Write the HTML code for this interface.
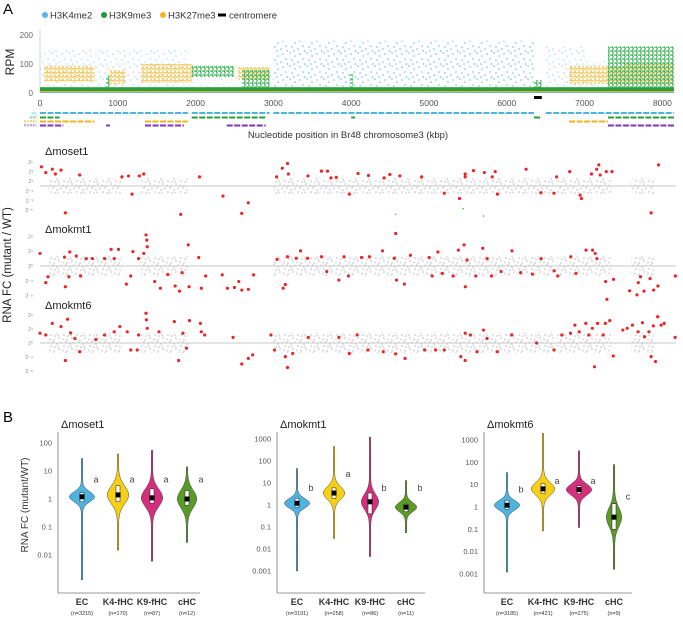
<!DOCTYPE html>
<html><head><meta charset="utf-8"><style>
body{margin:0;background:#fff}
svg{display:block;font-family:"Liberation Sans",sans-serif}
</style></head><body>
<svg id="fig" width="683" height="619" viewBox="0 0 683 619">
<defs id="defs"></defs>
<text x="3" y="14" font-size="15">A</text>
<text x="3" y="422" font-size="15">B</text>
<g id="topg"></g>
<g id="mid"></g>
<g id="bot"></g>
</svg>
<script>
// ---------- Panel A top data ----------
const topTicksX=[0,1000,2000,3000,4000,5000,6000,7000,8000];
const topTicksY=[0,100,200];
const blueStart=[0,1900,3000,6500,7000], blueEnd=[1900,3000,6350,7000,8150], blueTop=[150,60,180,160,110], blueOp=[0.6,0.4,1,0.6,0.5];
const yelStart=[50,1300,2550,6800,7500,900], yelEnd=[700,1950,2950,7500,8150,1100], yelLow=[40,35,45,30,30,30], yelTop=[95,100,90,95,100,80];
const grnStart=[1950,7300,6350,850,3980,2600], grnEnd=[2500,8150,6450,900,4020,2950], grnLow=[55,20,5,20,20,20], grnTop=[95,160,45,60,65,80];
const ecStart=[0,1950,3000,6500], ecEnd=[1900,2950,6350,8150];
const chcStart=[0,1950,4000,6350,7300], chcEnd=[250,2900,4050,6450,8150];
const k4Start=[0,1350,6800], k4End=[700,1900,7300];
const k9Start=[0,850,1350,2400,7300], k9End=[300,900,1850,2900,8150];
// ---------- Panel A RNA data (kbp, log2 FC) ----------
const m1Pos=[18,74,158,197,270,326,510,1053,1137,1182,1277,1333,1809,2050,2352,2593,2677,3041,3114,3181,3192,3444,3617,3696,3740,3808,3976,4088,4222,4423,4496,4625,4905,5196,5392,5465,5465,5571,5711,5812,5851,5879,6248,6439,6607,6640,6808,6942,6959,7088,7155,7183,7200,7278,7351,7855,7950];
const m1Val=[4.0,2.8,3.5,2.5,3.3,-5.6,2.3,1.9,2.1,-1.7,2.1,2.5,-5.9,1.9,-2.1,-5.7,-3.5,1.9,3.7,4.7,2.5,2.1,3.1,3.1,1.7,1.8,-1.7,2.6,2.2,1.7,2.4,2.1,1.9,-1.5,-2.6,2.5,1.9,3.2,2.8,1.9,3.0,-1.7,3.5,-1.4,-1.5,1.9,3.0,-1.9,-2.6,2.5,3.5,4.4,2.3,3.0,3.0,-5.6,4.4];
const k1Pos=[0,74,102,315,326,371,382,466,522,595,673,830,914,953,1009,1110,1166,1194,1267,1334,1362,1373,1378,1474,1547,1642,1737,1793,1827,1905,1916,2040,2073,2129,2342,2409,2499,2555,2594,2678,2745,3047,3125,3153,3181,3293,3349,3439,3618,3685,3841,3908,3964,4133,4234,4402,4554,4571,4582,4683,4761,5002,5041,5114,5170,5310,5377,5450,5467,5489,5601,5691,5747,5803,5926,6066,6178,6329,6441,6609,6654,6822,6889,7018,7102,7136,7158,7270,7287,7371,7578,7673,7690,7718,7763,7841,7886,7942,8166];
const k1Val=[3.4,-4.5,-2.9,2.4,-5.6,-2.9,3.8,2.7,-2.7,2.0,2.0,2.0,4.5,2.0,4.5,-4.9,-2.7,3.9,2.0,3.4,8.4,7.0,5.2,-4.2,-6.0,-2.3,-5.4,-6.8,-1.8,5.7,-5.6,2.3,-6.0,-2.7,-2.4,-6.0,-5.8,-4.2,-6.5,-6.3,-2.4,1.8,-6.0,-5.0,2.5,2.1,4.1,2.1,2.5,-1.5,-3.8,2.5,-2.7,2.3,2.5,4.1,2.1,8.8,-3.8,-4.9,2.9,2.3,-2.7,3.8,-2.0,-2.7,4.3,5.7,-5.6,1.6,-2.7,4.8,2.0,-2.7,-1.5,4.1,-1.8,-2.2,2.0,-1.3,-2.7,2.5,-2.0,4.3,4.3,3.4,2.0,-4.2,-9.0,-3.6,-6.7,-7.8,-4.5,-2.9,-6.8,-3.4,-6.5,-5.4,-2.7];
const k1GreenPos=[4571,5440,5700], k1GreenVal=[14,15.5,13.5];
const k6Pos=[0,74,158,270,326,354,393,449,510,718,830,953,1026,1121,1166,1250,1267,1362,1367,1378,1529,1726,1782,1837,1882,1921,2061,2073,2117,2481,2593,2677,2733,2968,3013,3153,3181,3248,3449,3841,3976,4077,4216,4412,4571,4692,4944,5084,5196,5409,5465,5465,5532,5616,5700,5745,5879,6063,6383,6607,6707,6819,6875,6931,7015,7054,7099,7127,7166,7239,7267,7323,7368,7491,7547,7614,7687,7743,7771,7827,7855,7883,7911,7939,7984,8023,8163];
const k6Val=[2.8,2.3,5.6,4.7,-5.0,6.8,2.9,1.3,-2.5,1.0,2.3,3.2,4.7,3.2,-2.0,-2.0,2.3,8.5,6.6,4.2,3.2,6.1,-5.0,2.8,-1.5,6.4,5.6,3.2,2.3,1.6,-6.0,-4.4,-3.4,2.3,-2.0,-3.9,-7.0,-3.0,1.6,1.6,-3.0,2.3,-2.0,-2.5,-3.1,-4.4,-2.0,-2.0,-2.0,-3.9,-5.0,2.8,2.3,-2.5,3.7,1.3,-2.5,2.3,0,-2.0,2.3,2.8,5.1,3.2,5.6,2.3,4.2,-6.8,5.6,2.3,5.6,6.4,-3.7,3.7,4.2,5.1,3.2,5.8,1.8,3.2,-3.9,4.9,-5.3,7.5,5.1,5.6,1.6];
const greyStart=[100,1300,3000,6650,7600], greyEnd=[1050,1900,6600,7350,7900];
// ---------- Panel B data ----------
const cats=["EC","K4-fHC","K9-fHC","cHC"];
const vColors=["#4db4e0","#f7cf14","#d42f7c","#5a9a26"];
const nLab1=["(n=3215)","(n=170)","(n=87)","(n=12)"], nLab2=["(n=3191)","(n=258)","(n=86)","(n=11)"], nLab3=["(n=3185)","(n=421)","(n=275)","(n=9)"];
const min1=[0.0013,0.015,0.006,0.028], max1=[28,40,55,14], q1a=[0.8,0.8,0.7,0.6], med1=[1.2,1.4,1.1,1.0], q3a=[1.7,3,2.3,2], hw1=[12,10,10,9], sp1=[0.25,0.45,0.45,0.45];
const min2=[0.001,0.03,0.0045,0.055], max2=[45,450,1200,13], q1b=[0.8,2,0.4,0.5], med2=[1.2,3.5,1.4,0.8], q3b=[2,6,3.5,1.1], hw2=[12,10,8,10], sp2=[0.3,0.4,0.5,0.3];
const min3=[0.0012,0.085,0.12,0.0016], max3=[35,2000,330,80], q1c=[0.8,4,4,0.1], med3=[1.2,6.5,6,0.35], q3c=[2,11,9,1.4], hw3=[12,11,12,7], sp3=[0.3,0.4,0.35,0.6];
const let1=["a","a","a","a"], let2=["b","a","b","b"], let3=["b","a","a","c"];
const letY1=[5,5,5,5], letY2=[6,25,6,6], letY3=[6,15,15,3];
const ticks1=[100,10,1,0.1,0.01], ticks2=[1000,100,10,1,0.1,0.01,0.001];

const NS="http://www.w3.org/2000/svg";
function mk(tag,attrs,parent){const e=document.createElementNS(NS,tag);for(const k in attrs)e.setAttribute(k,attrs[k]);parent.appendChild(e);return e;}
const defs=document.getElementById('defs');
function pattern(id,color,w,h,pts,r){const p=mk('pattern',{id:id,width:w,height:h,patternUnits:'userSpaceOnUse'},defs);for(let i=0;i<pts.length;i+=2)mk('circle',{cx:pts[i],cy:pts[i+1],r:r,fill:color},p);}
pattern('pBlue','#5ab4e5',17,13,[1,1,6,4,11,2,3,8,9,10,14,7,15.5,12,5,12],0.75);
pattern('pYel','#f2b51c',4,4,[1,1,3,3,3,0.5],0.9);
pattern('pGrn','#1f9a3a',4,4,[1,1,3,3,0.5,3.2],0.9);
pattern('pGrey','#d6d6d6',13,11,[1,1,5,3,9,1.5,12,5,3,6,7,8,11,9.5,2,10,6,5.5],1);

const topG=document.getElementById('topg');
const xA=v=>40+v*0.0778, yA=v=>93-v*0.29;
let e=mk('line',{x1:40,y1:30,x2:40,y2:93,stroke:'#ccc','stroke-width':0.8},topG);

topTicksY.forEach(t=>{const tx=mk('text',{x:33,y:yA(t)+3,'font-size':8,fill:'#666','text-anchor':'end'},topG);tx.textContent=t;
});
topTicksX.forEach(t=>{const tx=mk('text',{x:xA(t),y:106,'font-size':8.5,fill:'#555','text-anchor':'middle'},topG);tx.textContent=t;
});
e=mk('text',{x:14,y:62,'font-size':12,fill:'#222','text-anchor':'middle',transform:'rotate(-90 14 62)'},topG);e.textContent='RPM';

blueStart.forEach((s,i)=>{const r=mk('rect',{x:xA(s),y:yA(blueTop[i]),width:xA(blueEnd[i])-xA(s),height:yA(0)-yA(blueTop[i]),fill:'url(#pBlue)',opacity:blueOp[i]},topG);
});
yelStart.forEach((s,i)=>{const r=mk('rect',{x:xA(s),y:yA(yelTop[i]),width:xA(yelEnd[i])-xA(s),height:yA(yelLow[i])-yA(yelTop[i]),fill:'url(#pYel)',opacity:0.85},topG);
});
grnStart.forEach((s,i)=>{const r=mk('rect',{x:xA(s),y:yA(grnTop[i]),width:xA(grnEnd[i])-xA(s),height:yA(grnLow[i])-yA(grnTop[i]),fill:'url(#pGrn)',opacity:0.9},topG);
});
e=mk('rect',{x:xA(0),y:yA(20),width:xA(8150)-xA(0),height:yA(6)-yA(20),fill:'#2a9e3e'},topG);

e=mk('rect',{x:xA(0),y:yA(6),width:xA(8150)-xA(0),height:yA(0)-yA(6),fill:'#f0b41e'},topG);

e=mk('rect',{x:xA(0),y:yA(2.5),width:xA(8150)-xA(0),height:yA(0)-yA(2.5),fill:'#5ab4e5'},topG);

e=mk('rect',{x:xA(6350),y:96,width:xA(6450)-xA(6350),height:3,fill:'#000'},topG);

const lg=[['#5ab4e5','H3K4me2',45],['#1f9a3a','H3K9me3',104],['#f2b51c','H3K27me3',163]];
lg.forEach(l=>{const c=mk('circle',{cx:l[2],cy:15,r:3,fill:l[0]},topG);
const t=mk('text',{x:l[2]+5,y:18.5,'font-size':9.5,fill:'#333'},topG);t.textContent=l[1];});
e=mk('rect',{x:218,y:13.5,width:8,height:3,fill:'#000'},topG);
e=mk('text',{x:229,y:18.5,'font-size':9.5,fill:'#333'},topG);e.textContent='centromere';
function track(starts,ends,y,color,name){starts.forEach((s,i)=>{const r=mk('line',{x1:xA(s),y1:y,x2:xA(ends[i]),y2:y,stroke:color,'stroke-width':2,'stroke-dasharray':'6 1.5'},topG);
});}
track(ecStart,ecEnd,113,'#4db4e0','ec-track');track(chcStart,chcEnd,117.5,'#2a9e3e','chc-track');
track(k4Start,k4End,121.5,'#f2b51c','k4-fhc-track');track(k9Start,k9End,125.5,'#7b35b8','k9-fhc-track');
[['EC',114.5,'#4db4e0'],['cHC',118.5,'#2a9e3e'],['K4-fHC',122.5,'#e2a800'],['K9-fHC',126.5,'#7b35b8']].forEach(t=>{const x=mk('text',{x:37,y:t[1],'font-size':4,fill:t[2],'text-anchor':'end'},topG);x.textContent=t[0];});
e=mk('text',{x:348,y:138,'font-size':9.5,fill:'#333','text-anchor':'middle'},topG);e.textContent='Nucleotide position in Br48 chromosome3 (kbp)';


// ---------- middle ----------
const mid=document.getElementById('mid');
e=mk('text',{x:11,y:265,'font-size':11.5,fill:'#222','text-anchor':'middle',transform:'rotate(-90 11 265)'},mid);e.textContent='RNA FC (mutant / WT)';

const SUP='⁰¹²³⁴⁵⁶⁷⁸⁹';
function panelRNA(title,titleY,base,scale,band,ticks,pos,val){
  const y=v=>base-v*scale;
  const t=mk('text',{x:45,y:titleY,'font-size':11,fill:'#222'},mid);t.textContent=title;
  greyStart.forEach((s,i)=>{const r=mk('rect',{x:xA(s),y:base-band,width:xA(greyEnd[i])-xA(s),height:band*2,fill:'url(#pGrey)'},mid);});
  const l=mk('line',{x1:40,y1:base,x2:676,y2:base,stroke:'#c8c8c8','stroke-width':1},mid);
  ticks.forEach(tk=>{const tx=mk('text',{x:33,y:y(tk)+2,'font-size':5,fill:'#888','text-anchor':'end'},mid);
    let s=String(tk),o='';for(const ch of s){o+= ch==='-'?'⁻':SUP[+ch];}
    tx.textContent='2'+o;});
  pos.forEach((p,i)=>{const c=mk('circle',{cx:xA(p),cy:y(val[i]),r:1.6,fill:'#e8262a'},mid);});
  return y;
}
panelRNA('Δmoset1',155,186,4.8,8,[5,3,1,-1,-3,-5],m1Pos,m1Val);
const yk1=panelRNA('Δmokmt1',233,266,3.7,10,[8,4,0,-4,-8],k1Pos,k1Val);
k1GreenPos.forEach((p,i)=>{const c=mk('circle',{cx:xA(p),cy:yk1(k1GreenVal[i]),r:0.8,fill:'#3c3'},mid);});
panelRNA('Δmokmt6',309,343,3.5,10,[8,4,0,-4,-8],k6Pos,k6Val);

// ---------- panel B ----------
const bot=document.getElementById('bot');
e=mk('text',{x:28,y:505,'font-size':10,fill:'#333','text-anchor':'middle',transform:'rotate(-90 28 505)'},bot);e.textContent='RNA FC (mutant/WT)';

function violinPanel(title,ax,xEnd,y0,dec,ticks,centers,mins,maxs,q1s,meds,q3s,hws,sps,letters,letY,nl){
  const y=v=>y0-dec*Math.log10(v);
  const t=mk('text',{x:ax+3,y:428,'font-size':11,fill:'#222'},bot);t.textContent=title;
  let a=mk('line',{x1:ax,y1:432,x2:ax,y2:593,stroke:'#777','stroke-width':0.8},bot);
  a=mk('line',{x1:ax,y1:593,x2:xEnd,y2:593,stroke:'#777','stroke-width':0.8},bot);
  ticks.forEach(tk=>{const tx=mk('text',{x:ax-6,y:y(tk)+2.5,'font-size':7.5,fill:'#555','text-anchor':'end'},bot);tx.textContent=tk;});
  centers.forEach((cx,i)=>{
    const lo=Math.log10(mins[i]),hi=Math.log10(maxs[i]),pk=Math.log10(meds[i]);
    let L=[],R=[];
    for(let k=0;k<=60;k++){const lv=hi-(hi-lo)*k/60;const w=hws[i]*Math.exp(-Math.pow((lv-pk)/sps[i],2))+0.7;L.push((cx-w).toFixed(1)+','+y(Math.pow(10,lv)).toFixed(1));R.push((cx+w).toFixed(1)+','+y(Math.pow(10,lv)).toFixed(1));}
    const p=mk('polygon',{points:L.concat(R.reverse()).join(' '),fill:vColors[i],stroke:'#444','stroke-width':0.5},bot);
    const b=mk('rect',{x:cx-2,y:y(q3s[i]),width:4,height:y(q1s[i])-y(q3s[i]),fill:'#fff',stroke:'#222','stroke-width':0.5},bot);
    const m=mk('rect',{x:cx-2.5,y:y(meds[i])-2.5,width:5,height:5,fill:'#000'},bot);
    const lt=mk('text',{x:cx+14,y:y(letY[i])+3,'font-size':9,fill:'#444','text-anchor':'middle'},bot);lt.textContent=letters[i];
    const c=mk('text',{x:cx,y:605,'font-size':9,'font-weight':'bold',fill:'#333','text-anchor':'middle'},bot);c.textContent=cats[i];
    const n=mk('text',{x:cx,y:615,'font-size':5.5,fill:'#333','text-anchor':'middle'},bot);n.textContent=nl[i];
  });
}
violinPanel('Δmoset1',58,200,499,28,ticks1,[82,118,152,187],min1,max1,q1a,med1,q3a,hw1,sp1,let1,letY1,nLab1);
violinPanel('Δmokmt1',277,425,505,22,ticks2,[297,334,370,406],min2,max2,q1b,med2,q3b,hw2,sp2,let2,letY2,nLab2);
violinPanel('Δmokmt6',484,632,507,22.3,ticks2,[507,543,579,614],min3,max3,q1c,med3,q3c,hw3,sp3,let3,letY3,nLab3);
</script>
</body></html>
